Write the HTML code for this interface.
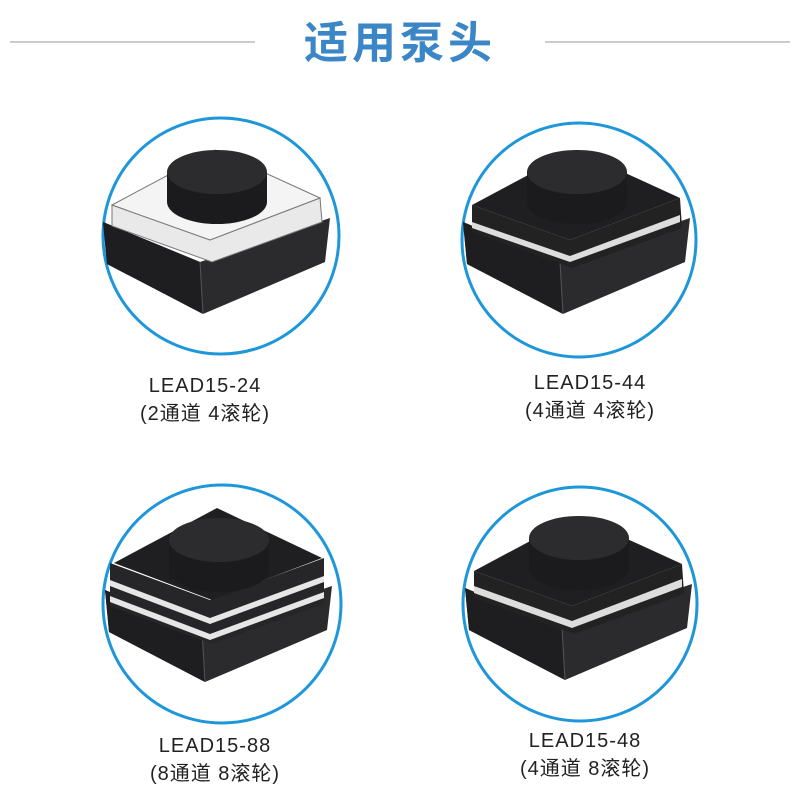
<!DOCTYPE html>
<html><head><meta charset="utf-8"><style>
body{margin:0;width:800px;height:800px;background:#fff;overflow:hidden;font-family:"Liberation Sans","Noto Sans CJK SC",sans-serif}
</style></head><body>
<svg width="800" height="800" viewBox="0 0 800 800" xmlns="http://www.w3.org/2000/svg">
<defs>
<g id="base">
  <polygon points="103,222 200,262 330,218 325,262 203,314 107,264" fill="#2b2b2d"/>
  <polygon points="103,222 200,262 203,314 107,264" fill="#1e1e20"/>
  <line x1="200" y1="262" x2="203" y2="314" stroke="#555" stroke-width="1"/>
</g>
<g id="disc">
  <path d="M167,172 L167,202 A50,22 0 0 0 267,202 L267,172 Z" fill="#1b1b1d"/>
  <ellipse cx="217" cy="172" rx="50" ry="22" fill="#2c2c2e"/>
</g>
</defs>
<line x1="10" y1="42" x2="255" y2="42" stroke="#999" stroke-width="1"/>
<line x1="545" y1="42" x2="790" y2="42" stroke="#999" stroke-width="1"/>
<text x="400" y="58" text-anchor="middle" font-size="44" font-weight="bold" fill="#3b86c6" font-family="'Liberation Sans','Noto Sans CJK SC',sans-serif" letter-spacing="4">适用泵头</text>

<circle cx="221" cy="236" r="118" fill="#fff" stroke="#1d97d9" stroke-width="3"/>
<circle cx="579" cy="240" r="117" fill="#fff" stroke="#1d97d9" stroke-width="3"/>
<circle cx="222" cy="604" r="119" fill="#fff" stroke="#1d97d9" stroke-width="3"/>
<circle cx="580" cy="604" r="117" fill="#fff" stroke="#1d97d9" stroke-width="3"/>

<g>
 <use href="#base"/>
 <polygon points="112,205 210,240 320,198 322,222 212,262 112,226" fill="#e9e9ea" stroke="#777" stroke-width="1"/>
 <polygon points="112,205 215,150 320,198 210,240" fill="#f4f4f4" stroke="#777" stroke-width="1"/>
 <use href="#disc"/>
</g>
<g transform="translate(360,0)">
 <use href="#base"/>
 <polygon points="112,205 210,240 320,198 322,228 212,268 112,232" fill="#222" />
 <polygon points="112,222 210,256 320,215 320,222 210,262 112,228" fill="#ddd"/>
 <polygon points="112,205 215,150 320,198 210,240" fill="#1f1f21"/>
 <use href="#disc"/>
</g>
<g transform="translate(2,368)">
 <use href="#base"/>
 <polygon points="108,195 208,232 322,190 322,236 210,276 108,238" fill="#262628"/>
 <polygon points="108,212 208,250 322,208 322,214 208,256 108,218" fill="#e6e6e6"/>
 <polygon points="108,228 208,266 322,224 322,230 208,272 108,234" fill="#e6e6e6"/>
 <polygon points="112,195 215,140 320,190 210,232" fill="#1f1f21"/>
 <use href="#disc"/>
</g>
<g transform="translate(362,366)">
 <use href="#base"/>
 <polygon points="112,205 210,240 320,198 322,228 212,268 112,232" fill="#222"/>
 <polygon points="112,220 210,255 320,213 320,221 210,262 112,227" fill="#ddd"/>
 <polygon points="112,205 215,150 320,198 210,240" fill="#1f1f21"/>
 <use href="#disc"/>
</g>

<g font-size="20" fill="#222" text-anchor="middle" font-family="'Liberation Sans','Noto Sans CJK SC',sans-serif" letter-spacing="1">
<text x="205" y="392">LEAD15-24</text>
<text x="205" y="420">(2通道 4滚轮)</text>
<text x="590" y="389">LEAD15-44</text>
<text x="590" y="417">(4通道 4滚轮)</text>
<text x="215" y="752">LEAD15-88</text>
<text x="215" y="780">(8通道 8滚轮)</text>
<text x="585" y="747">LEAD15-48</text>
<text x="585" y="775">(4通道 8滚轮)</text>
</g>
</svg>
</body></html>
